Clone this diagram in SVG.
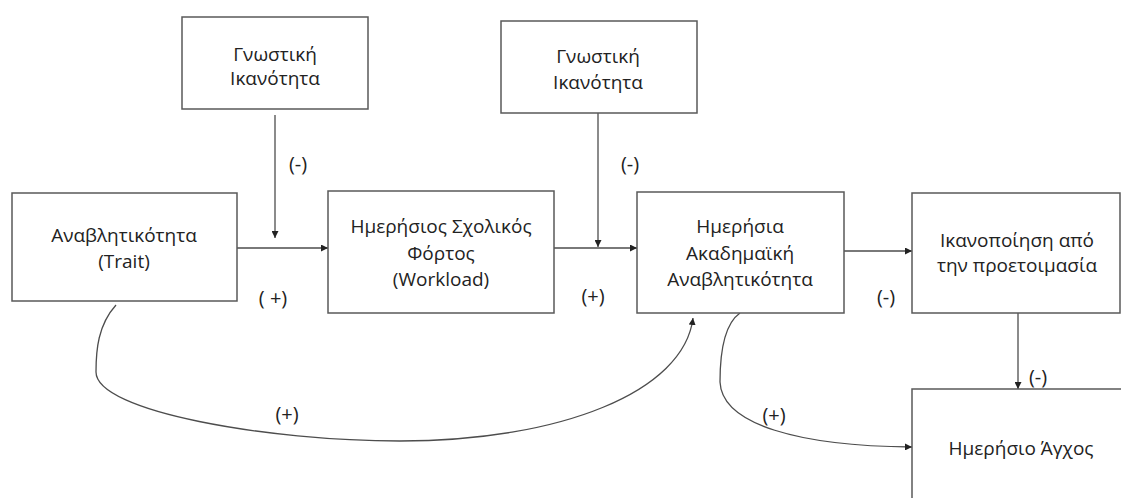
<svg xmlns="http://www.w3.org/2000/svg" width="1121" height="498" viewBox="0 0 1121 498">
<style>
.box{fill:#fff;stroke:#595959;stroke-width:1.5}
.t{font-family:"Open Sans","Liberation Sans",sans-serif;font-size:19px;fill:#222;text-anchor:middle}
.l{font-size:20px}
.c{fill:none;stroke:#4d4d4d;stroke-width:1.3}
</style>
<defs>
<marker id="ah" viewBox="0 0 10 10" refX="10" refY="5" markerWidth="7" markerHeight="7" markerUnits="userSpaceOnUse" orient="auto">
<path d="M0,0 L10,5 L0,10 z" fill="#222"/>
</marker>
</defs>
<rect width="1121" height="498" fill="#fff"/>
<g id="connectors">
<line class="c" x1="275" y1="115" x2="275" y2="238" marker-end="url(#ah)"/>
<line class="c" x1="598" y1="113" x2="598" y2="247" marker-end="url(#ah)"/>
<line class="c" x1="237" y1="248" x2="328" y2="248" marker-end="url(#ah)"/>
<line class="c" x1="554" y1="248" x2="637" y2="248" marker-end="url(#ah)"/>
<line class="c" x1="844" y1="251" x2="912" y2="251" marker-end="url(#ah)"/>
<line class="c" x1="1018" y1="313" x2="1018" y2="389" marker-end="url(#ah)"/>
<path class="c" d="M116,305 C98,325 96,350 96,372 C96,412 270,441 400,441 C560,441 684,392 693,318" marker-end="url(#ah)"/>
<path class="c" d="M740,313 C723,325 720,355 720,382 C722,425 800,446 912,447" marker-end="url(#ah)"/>
<text class="t l" x="298" y="171">(-)</text>
<text class="t l" x="630" y="171">(-)</text>
<text class="t l" x="273" y="305">( +)</text>
<text class="t l" x="593" y="303">(+)</text>
<text class="t l" x="886" y="304">(-)</text>
<text class="t l" x="1038" y="384">(-)</text>
<text class="t l" x="287" y="421">(+)</text>
<text class="t l" x="774" y="422">(+)</text>
</g>
<g id="n1">
<rect class="box" x="182" y="17" width="186" height="92"/>
<text class="t" x="275" y="61">Γνωστική</text>
<text class="t" x="275" y="85">Ικανότητα</text>
</g>
<g id="n2">
<rect class="box" x="501" y="21" width="196" height="92"/>
<text class="t" x="598" y="63">Γνωστική</text>
<text class="t" x="598" y="89">Ικανότητα</text>
</g>
<g id="n3">
<rect class="box" x="12" y="193" width="225" height="108"/>
<text class="t" x="124" y="242">Αναβλητικότητα</text>
<text class="t" x="124" y="268">(Trait)</text>
</g>
<g id="n4">
<rect class="box" x="328" y="191" width="226" height="122"/>
<text class="t" x="441" y="233">Ημερήσιος Σχολικός</text>
<text class="t" x="441" y="260">Φόρτος</text>
<text class="t" x="441" y="286">(Workload)</text>
</g>
<g id="n5">
<rect class="box" x="637" y="192" width="207" height="121"/>
<text class="t" x="740" y="233">Ημερήσια</text>
<text class="t" x="740" y="260">Ακαδημαϊκή</text>
<text class="t" x="740" y="286">Αναβλητικότητα</text>
</g>
<g id="n6">
<rect class="box" x="912" y="193" width="208" height="120"/>
<text class="t" x="1017" y="247">Ικανοποίηση από</text>
<text class="t" x="1017" y="272">την προετοιμασία</text>
</g>
<g id="n7">
<rect class="box" x="912" y="389" width="215" height="120"/>
<text class="t" x="1021" y="455">Ημερήσιο Άγχος</text>
</g>
</svg>
